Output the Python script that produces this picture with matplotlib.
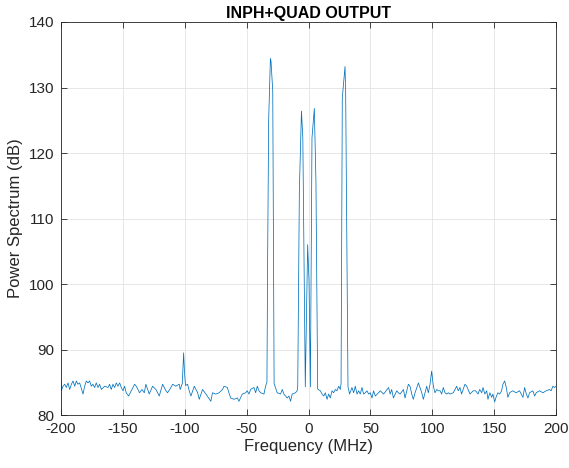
import matplotlib
matplotlib.use("Agg")
import matplotlib.pyplot as plt

freq_mhz = [
    -200.0, -199.7, -198.4, -197.0, -195.7, -194.3, -193.0, -191.6, -190.3, -188.9,
    -187.6, -186.3, -184.9, -182.2, -180.9, -179.5, -178.2, -176.9, -175.5, -174.2,
    -172.8, -171.5, -170.1, -168.8, -167.4, -164.7, -162.0, -160.7, -159.4, -158.0,
    -156.7, -155.3, -154.0, -152.6, -151.3, -149.9, -148.6, -147.3, -145.4, -143.2,
    -140.5, -139.2, -136.5, -134.6, -132.7, -131.4, -128.7, -126.0, -123.3, -120.6,
    -117.9, -115.2, -113.9, -111.2, -109.8, -107.2, -104.5, -103.7, -102.0, -101.5,
    -100.9, -100.2, -99.4, -97.7, -96.4, -95.0, -92.3, -89.6, -88.3, -85.6,
    -82.9, -78.9, -77.6, -74.9, -72.2, -69.5, -68.3, -65.6, -64.3, -62.9,
    -60.2, -57.5, -56.2, -53.5, -50.8, -49.5, -48.1, -46.8, -44.1, -42.7,
    -41.4, -40.0, -38.7, -36.0, -34.7, -33.6, -33.0, -32.2, -30.8, -30.3,
    -28.9, -27.8, -25.3, -22.6, -21.2, -19.9, -17.2, -15.8, -14.5, -13.2,
    -10.5, -9.2, -8.7, -7.4, -5.7, -4.6, -2.6, -0.7, 0.4, 1.5,
    2.8, 4.7, 6.0, 7.4, 7.7, 9.6, 10.9, 12.3, 13.6, 15.0,
    16.3, 17.6, 19.0, 20.3, 21.7, 23.0, 24.4, 25.7, 26.3, 27.3,
    29.5, 30.0, 31.9, 33.2, 35.1, 36.5, 37.8, 39.2, 40.5, 41.8,
    43.2, 44.5, 45.9, 47.2, 48.6, 49.9, 51.3, 52.6, 54.0, 56.6,
    58.0, 60.7, 64.7, 66.0, 67.2, 68.6, 71.3, 72.6, 74.0, 76.7,
    78.0, 80.7, 82.0, 83.4, 84.7, 86.1, 88.8, 90.1, 91.5, 92.8,
    95.5, 96.8, 98.2, 99.5, 100.9, 102.2, 103.6, 104.9, 106.3, 107.6,
    108.9, 110.3, 111.6, 113.0, 114.3, 117.0, 118.4, 119.7, 121.0, 122.4,
    123.7, 126.4, 127.8, 130.5, 133.1, 135.0, 137.0, 138.3, 140.0, 141.0,
    142.5, 144.0, 145.0, 146.5, 148.0, 149.0, 150.4, 151.5, 153.0, 154.5,
    156.0, 157.1, 158.5, 159.8, 161.1, 162.5, 165.0, 167.8, 170.5, 173.3,
    174.6, 176.0, 177.3, 178.6, 181.3, 182.7, 184.0, 186.7, 189.4, 192.0,
    194.8, 196.0, 197.5, 198.8, 200.0,
]

power_db = [
    85.4, 83.7, 84.4, 84.7, 84.2, 84.9, 83.9, 84.7, 85.2, 84.4,
    85.2, 84.7, 84.9, 83.2, 84.4, 85.2, 84.9, 85.2, 84.4, 84.7,
    84.2, 84.9, 84.2, 84.7, 83.9, 84.4, 84.2, 84.7, 83.9, 84.7,
    84.2, 84.9, 84.4, 84.9, 84.2, 83.7, 84.4, 83.4, 82.9, 83.7,
    84.7, 84.4, 83.4, 83.9, 83.4, 84.7, 83.2, 84.4, 83.9, 82.9,
    84.7, 83.7, 83.4, 84.2, 84.7, 84.4, 84.7, 83.9, 84.8, 87.0,
    89.5, 86.5, 84.5, 84.7, 83.7, 82.9, 84.4, 83.4, 82.4, 83.9,
    83.2, 82.1, 83.4, 83.2, 83.4, 83.9, 84.4, 84.2, 83.4, 82.6,
    82.4, 82.6, 82.1, 83.2, 83.4, 83.7, 83.2, 83.9, 84.2, 83.4,
    84.4, 83.7, 83.4, 83.2, 84.4, 85.0, 104.6, 125.0, 134.4, 134.0,
    129.5, 84.8, 83.4, 83.2, 83.9, 83.2, 82.6, 82.9, 82.1, 83.2,
    83.4, 83.7, 84.5, 114.2, 126.4, 122.3, 84.3, 106.0, 100.5, 84.3,
    122.3, 126.8, 115.7, 84.0, 83.9, 83.7, 83.2, 82.9, 83.4, 82.4,
    83.2, 82.6, 83.7, 83.4, 83.9, 83.7, 84.4, 83.9, 84.8, 128.4,
    133.2, 129.5, 84.3, 83.2, 84.2, 83.4, 84.4, 83.2, 83.7, 83.2,
    84.2, 83.2, 83.4, 83.7, 83.2, 83.4, 82.6, 83.7, 82.9, 83.4,
    83.7, 83.2, 84.2, 83.2, 83.9, 82.6, 83.7, 83.4, 83.2, 83.9,
    82.6, 84.7, 84.4, 83.2, 82.4, 83.4, 84.9, 84.2, 83.4, 82.4,
    84.4, 83.4, 84.7, 86.7, 84.4, 83.4, 83.9, 83.7, 83.7, 83.2,
    84.2, 83.4, 83.2, 83.4, 83.2, 83.4, 83.9, 84.4, 83.7, 84.2,
    83.2, 84.7, 84.4, 83.2, 83.7, 83.7, 83.2, 83.9, 83.4, 84.2,
    83.2, 83.7, 82.4, 83.4, 82.7, 83.2, 82.0, 82.7, 83.4, 83.2,
    83.7, 84.7, 85.2, 84.2, 82.7, 83.4, 83.7, 83.4, 83.7, 82.7,
    84.2, 83.2, 82.6, 83.4, 83.7, 82.9, 83.4, 83.7, 83.4, 83.7,
    83.9, 83.7, 84.4, 84.2, 84.4,
]

x_ticks = [-200, -150, -100, -50, 0, 50, 100, 150, 200]
y_ticks = [80, 90, 100, 110, 120, 130, 140]

title_text = "INPH+QUAD OUTPUT"
x_label = "Frequency (MHz)"
y_label = "Power Spectrum (dB)"

plt.rcParams['font.family'] = ['Liberation Sans', 'DejaVu Sans']
plt.rcParams['axes.unicode_minus'] = False

fig = plt.figure(figsize=(5.69, 4.68), dpi=100)
ax = fig.add_axes([0.1072, 0.1132, 0.8700, 0.8398])

ax.plot(freq_mhz, power_db, color='#0072BD', linewidth=0.55)

ax.set_xlim(-200, 200)
ax.set_ylim(80, 140)
ax.set_xticks(x_ticks)
ax.set_yticks(y_ticks)
ax.grid(True, color='#e3e3e3', linewidth=0.6)
ax.set_axisbelow(True)

ax.tick_params(direction='in', top=True, right=True, length=4, width=0.6,
               color='#262626', labelsize=11, labelcolor='#262626', pad=5)
for s in ax.spines.values():
    s.set_color('#262626')
    s.set_linewidth(0.6)

ax.set_title(title_text, fontsize=11.5, fontweight='bold', color='black', pad=3)
ax.set_xlabel(x_label, fontsize=12, color='#262626', labelpad=2)
ax.set_ylabel(y_label, fontsize=12, color='#262626', labelpad=4)

fig.savefig("out.png", dpi=100)
